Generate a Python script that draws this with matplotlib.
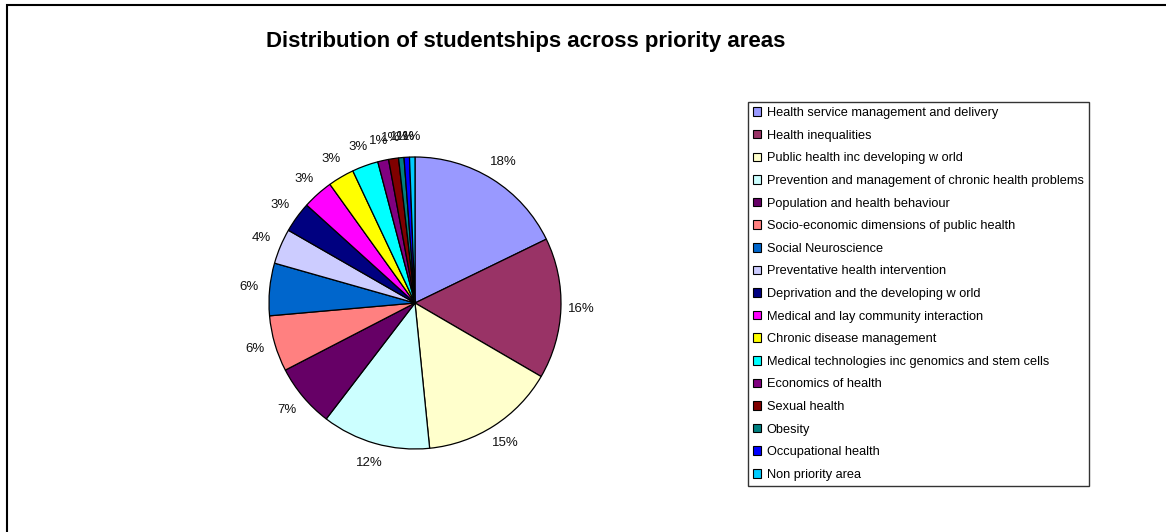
import matplotlib
matplotlib.use("Agg")
import matplotlib.pyplot as plt
from matplotlib.patches import Rectangle

plt.rcParams['font.family'] = ['Liberation Sans', 'DejaVu Sans']

# share of studentships (%) in each priority area
areas = [
    "Health service management and delivery",
    "Health inequalities",
    "Public health inc developing w orld",
    "Prevention and management of chronic health problems",
    "Population and health behaviour",
    "Socio-economic dimensions of public health",
    "Social Neuroscience",
    "Preventative health intervention",
    "Deprivation and the developing w orld",
    "Medical and lay community interaction",
    "Chronic disease management",
    "Medical technologies inc genomics and stem cells",
    "Economics of health",
    "Sexual health",
    "Obesity",
    "Occupational health",
    "Non priority area",
]
shares = [17.8, 15.6, 15.0, 12.0, 7.0, 6.2, 5.8, 3.9, 3.4, 3.4, 2.9, 2.9, 1.2, 1.1, 0.6, 0.6, 0.6]
colours = ["#9999FF", "#993366", "#FFFFCC", "#CCFFFF", "#660066", "#FF8080",
           "#0066CC", "#CCCCFF", "#000080", "#FF00FF", "#FFFF00", "#00FFFF",
           "#800080", "#800000", "#008080", "#0000FF", "#00CCFF"]

W, H = 1166, 532
fig = plt.figure(figsize=(W / 100, H / 100), dpi=100)

# chart border
fig.patches.append(Rectangle((7 / W, -0.1), 1.2, 1 - 5 / H + 0.1, transform=fig.transFigure,
                             fill=False, edgecolor="black", linewidth=1.5))

fig.text(526 / W, 1 - 41 / H, "Distribution of studentships across priority areas",
         ha="center", va="center", fontsize=16, fontweight="bold")

cx, cy, r = 415, H - 303, 146
ax = fig.add_axes([(cx - r) / W, (cy - r) / H, 2 * r / W, 2 * r / H])
wedges, texts, autotexts = ax.pie(
    shares, colors=colours, startangle=90, counterclock=False,
    autopct="%1.0f%%", pctdistance=1.14,
    wedgeprops=dict(edgecolor="black", linewidth=0.9),
    textprops=dict(fontsize=9.5, color="#111111"))
ax.set_xlim(-1, 1)
ax.set_ylim(-1, 1)
ax.set_aspect("equal")
ax.axis("off")

handles = [Rectangle((0, 0), 1, 1, facecolor=c, edgecolor="black", linewidth=0.8) for c in colours]
leg = fig.legend(handles, areas, loc="upper left", bbox_to_anchor=(748 / W, 1 - 102 / H),
                 fontsize=9.2, frameon=True, fancybox=False, shadow=False,
                 handlelength=0.65, handleheight=0.65, handletextpad=0.4,
                 labelspacing=0.83, borderpad=0.4, borderaxespad=0)
leg.get_frame().set_edgecolor("black")
leg.get_frame().set_linewidth(1.0)

fig.savefig("out.png", dpi=100)
